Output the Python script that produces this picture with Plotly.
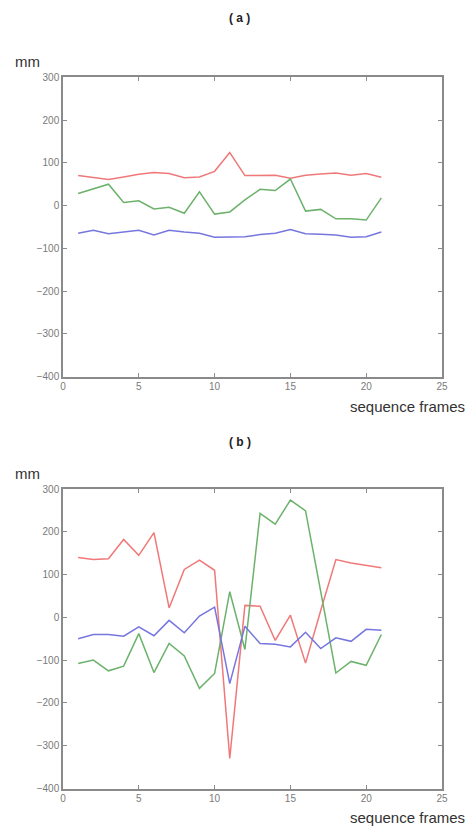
import plotly.graph_objects as go

frames = list(range(1, 22))

# Panel (a)
a_red = [70, 66, 61, 67, 73, 77, 75, 65, 67, 80, 124, 70, 70, 71, 64, 71, 74, 76, 71, 75, 66]
a_green = [28, 39, 50, 7, 11, -8, -4, -18, 32, -20, -15, 13, 38, 35, 62, -13, -9, -31, -31, -34, 18]
a_blue = [-65, -58, -66, -62, -58, -69, -58, -62, -65, -74, -73, -73, -68, -65, -56, -66, -67, -69, -74, -73, -62]

# Panel (b)
b_red = [140, 135, 137, 182, 145, 198, 22, 112, 134, 110, -330, 28, 26, -54, 5, -107, 16, 135, 127, 122, 116]
b_green = [-108, -100, -125, -114, -38, -129, -61, -90, -166, -131, 60, -75, 243, 218, 274, 249, 60, -130, -103, -112, -40]
b_blue = [-50, -40, -40, -44, -22, -43, -7, -36, 3, 24, -155, -21, -61, -63, -69, -35, -73, -48, -56, -28, -30]

x_ticks = [0, 5, 10, 15, 20, 25]
y_ticks = [300, 200, 100, 0, -100, -200, -300, -400]

colors = {"red": "#f07878", "green": "#6cb26c", "blue": "#7676de"}

fig = go.Figure()
for xa, ya, series in [("x", "y", (a_red, a_green, a_blue)), ("x2", "y2", (b_red, b_green, b_blue))]:
    for vals, c in zip(series, ["red", "green", "blue"]):
        fig.add_trace(go.Scatter(x=frames, y=vals, mode="lines", xaxis=xa, yaxis=ya,
                                 line=dict(color=colors[c], width=1.5), showlegend=False,
                                 hoverinfo="skip"))

W, H = 468, 830
xdom = [63 / W, 442 / W]
ya_dom = [1 - 376.5 / H, 1 - 77.3 / H]
yb_dom = [1 - 788.5 / H, 1 - 489 / H]

axis_common = dict(showgrid=False, zeroline=False, showline=True, linecolor="#8a8a8a",
                   linewidth=1.5, mirror="ticks", ticks="inside", ticklen=4,
                   tickcolor="#8a8a8a", tickwidth=1, automargin=False,
                   tickfont=dict(family="Liberation Sans, Arial", size=10, color="#7a7a7a"))

fig.update_layout(
    template="none",
    width=W, height=H,
    margin=dict(l=0, r=0, t=0, b=0, autoexpand=False),
    paper_bgcolor="white", plot_bgcolor="white",
    xaxis=dict(domain=xdom, anchor="y", range=[0, 25], tickvals=x_ticks, **axis_common),
    yaxis=dict(domain=ya_dom, anchor="x", range=[-400, 300], tickvals=y_ticks, **axis_common),
    xaxis2=dict(domain=xdom, anchor="y2", range=[0, 25], tickvals=x_ticks, **axis_common),
    yaxis2=dict(domain=yb_dom, anchor="x2", range=[-400, 300], tickvals=y_ticks, **axis_common),
)

title_font = dict(family="Liberation Sans, Arial", size=12, color="#222222")
label_font = dict(family="Liberation Sans, Arial", size=15, color="#333333")
ann = []
for label, ty, my, sy in [("<b>( a )</b>", 18, 62, 406), ("<b>( b )</b>", 442, 473, 817)]:
    ann.append(dict(text=label, x=240 / W, y=1 - ty / H, xref="paper", yref="paper",
                    showarrow=False, font=title_font, xanchor="center", yanchor="middle"))
    ann.append(dict(text="mm", x=13 / W, y=1 - my / H, xref="paper", yref="paper",
                    showarrow=False, font=dict(family="Liberation Sans, Arial", size=15, color="#333333"),
                    xanchor="left", yanchor="middle"))
    ann.append(dict(text="sequence frames", x=467 / W, y=1 - sy / H, xref="paper", yref="paper",
                    showarrow=False, font=label_font, xanchor="right", yanchor="middle"))
fig.update_layout(annotations=ann)

fig.write_html("out.html", config={"displayModeBar": False},
               post_script="document.body.style.margin='0';document.body.style.overflow='hidden';")
